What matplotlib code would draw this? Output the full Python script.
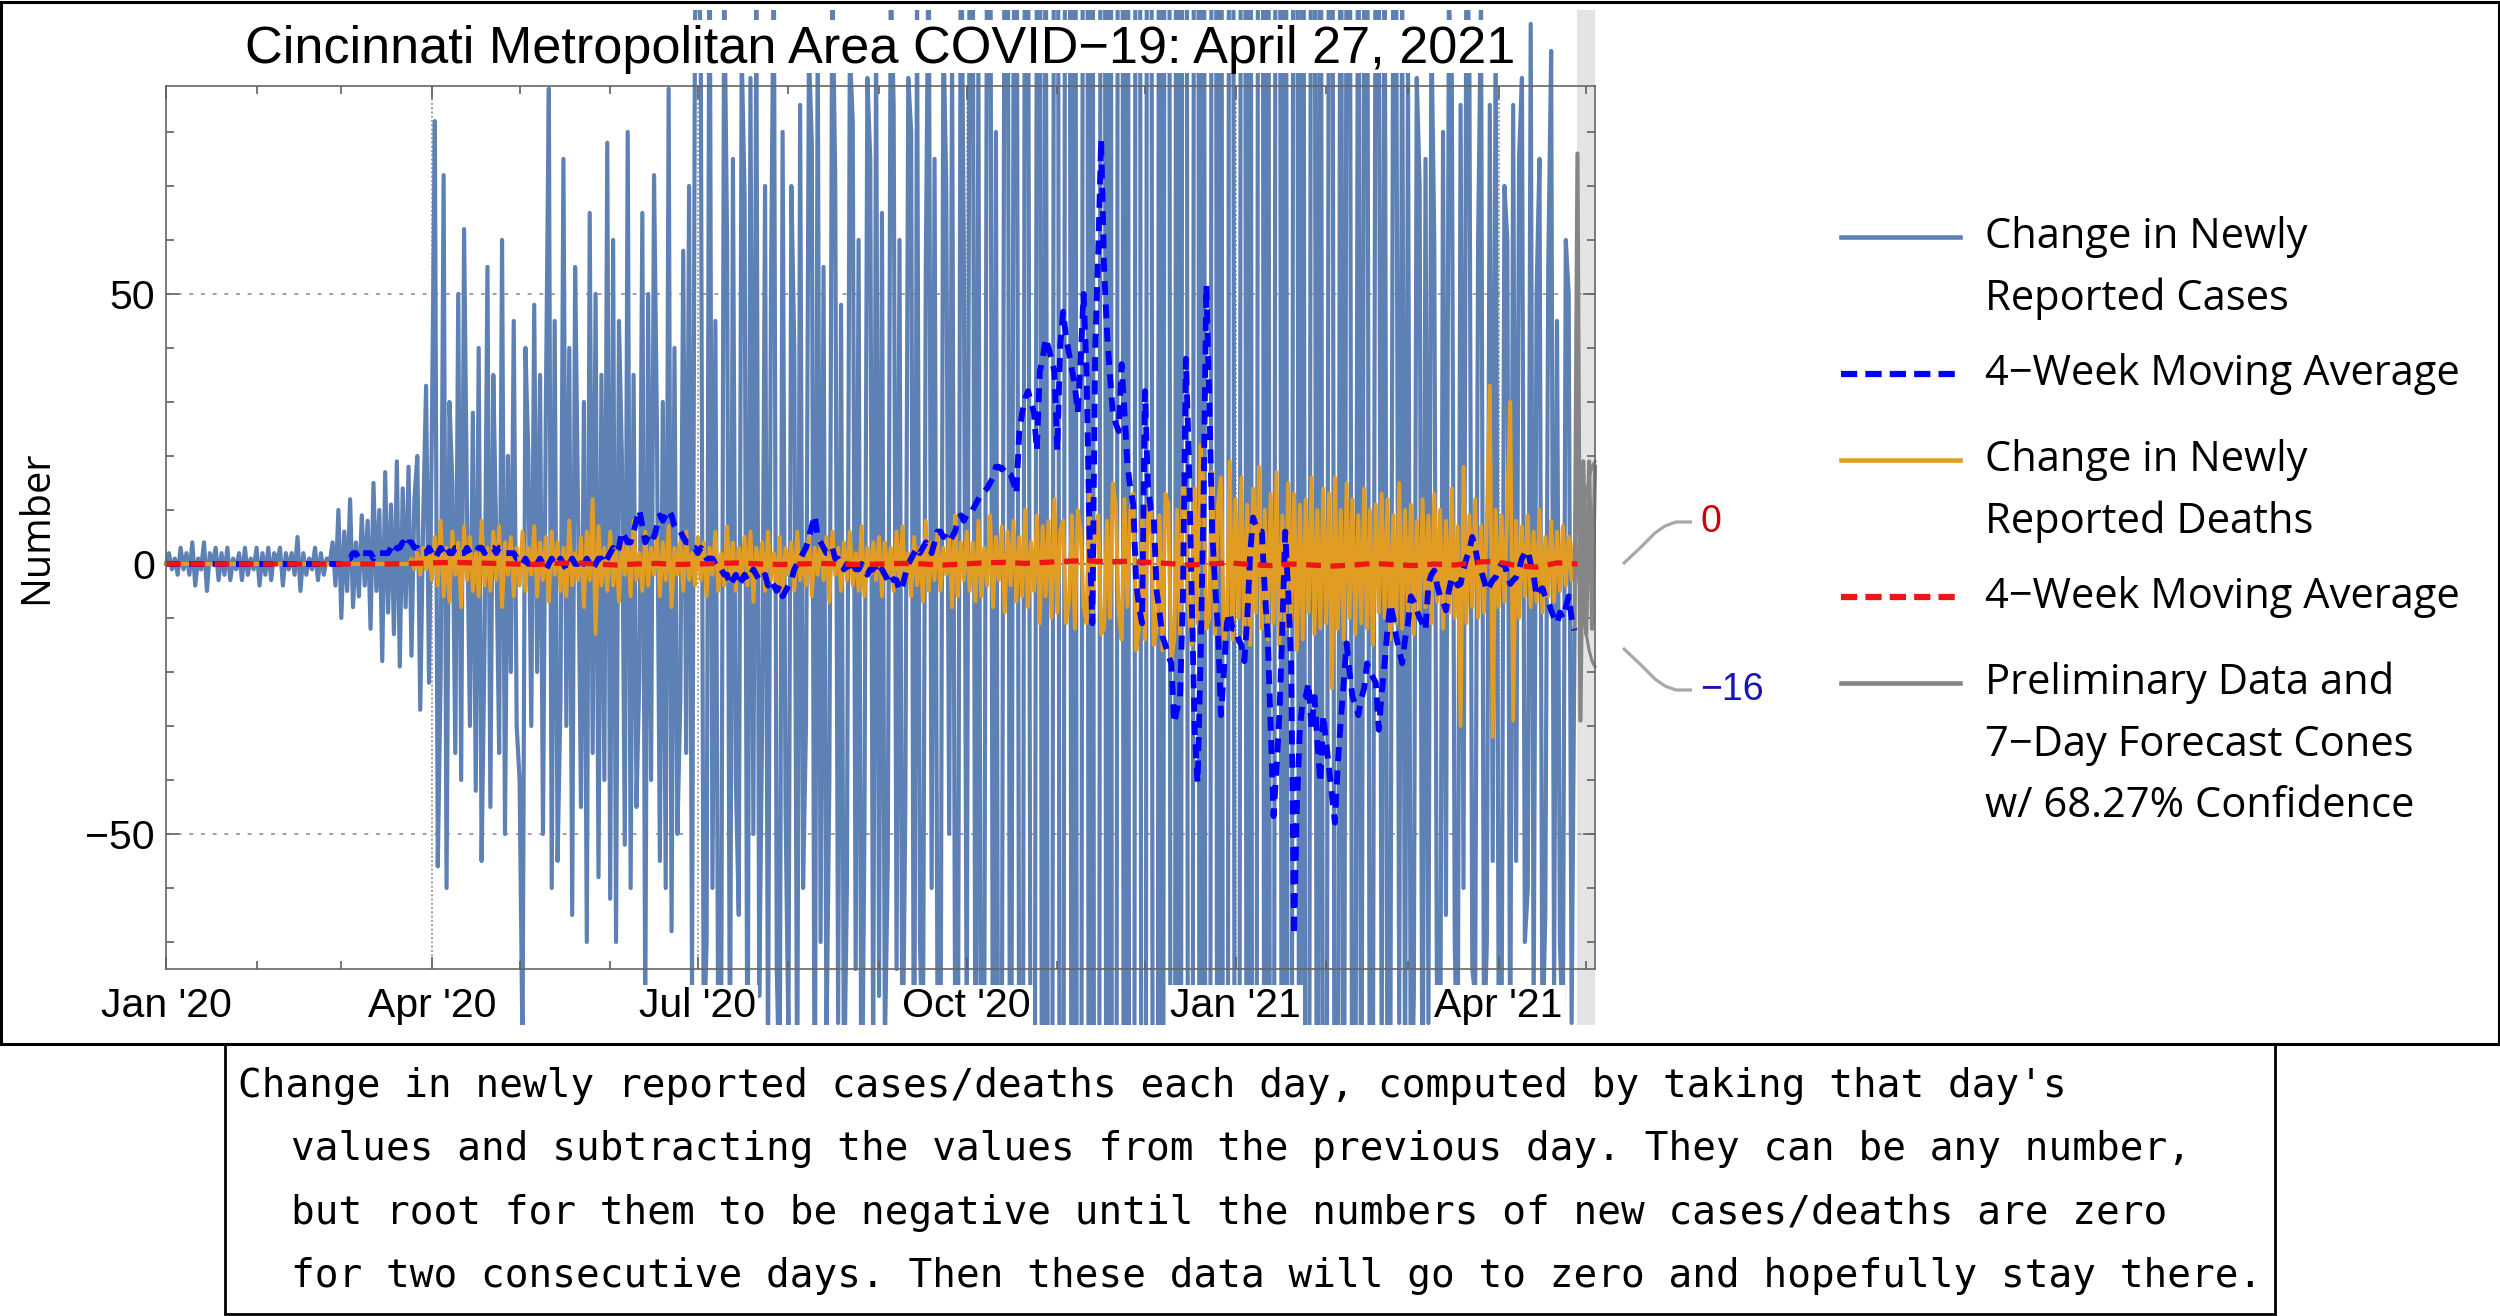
import numpy as np
import pandas as pd
import matplotlib
matplotlib.use("Agg")
from matplotlib import pyplot as plt
from matplotlib.patches import Rectangle
from matplotlib.lines import Line2D
from matplotlib.ticker import MultipleLocator
import matplotlib.dates as mdates

plt.rcParams['font.family'] = ['Liberation Sans', 'DejaVu Sans']
plt.rcParams['axes.unicode_minus'] = True

# ---------------- data (one sub-list per month, Jan 2020 .. Apr 27 2021) ----------------
month_starts = pd.date_range("2020-01-01", "2021-04-01", freq="MS")

case_change = [
    [0, 2, -1, 1, -2, 3, -1, 2, -2, 4, -4, 1, -1, 4, -5, 2, 0, 3, -3, 2, -2, 3, -3, 1, -1, 2, -3, 3, -2, 1, -1],
    [3, -4, 2, -2, 3, -3, 2, 0, 3, -4, 2, -1, 2, -2, 5, -5, 2, -2, 1, -1, 3, -3, 2, -2, 1, 0, 4, -4, 10],
    [-10, 6, -5, 12, -8, 4, -6, 9, -4, 8, -12, 15, -5, 10, -18, 17, -9, 11, -13, 19, -19, 14, -8, 18, -17, 12, 20, -27, 8, 33, -22],
    [26, 82, -56, -20, 72, -60, 30, 15, -35, 50, -40, 62, 10, -30, 28, -42, 40, -55, -15, 55, -45, 35, 5, -35, 60, -50, 20, -20, 45, -30],
    [-40, -90, 40, 20, -30, 48, -20, 35, -50, 30, 88, -60, 45, -55, -25, 75, -30, 40, -65, 55, 10, -45, 30, -70, 65, -35, 50, -58, 35, -40, 78],
    [-62, 60, -70, 45, 20, -52, 80, -60, 35, -45, -20, 65, -85, 50, -40, 72, 25, -55, 30, -60, 88, -68, 40, -50, -25, 58, -35, 70, -80, 100],
    [120, 95, -90, -70, 130, -60, 45, -95, -85, 110, 60, -100, 75, -40, -65, 95, 68, -110, 90, -50, 105, -80, -30, 70, -95, 50, 115, -75, -100, 80, -45],
    [-88, 70, 40, -105, 85, -60, -30, 95, 78, -120, 100, -70, 55, -90, -40, 110, 72, -85, 48, -100, -60, 95, 82, -75, 60, -115, -50, 90, 75, -95, 100],
    [-80, 65, -90, -55, 110, 85, -75, 60, -100, -45, 90, 80, -120, 105, -70, -95, 55, 120, -60, 75, -85, -110, 100, 70, -50, 95, -80, -100, 130, 60],
    [-90, 120, 140, -110, 95, -150, -90, 130, 160, -120, 80, -170, -100, 140, 150, -180, 90, 160, -110, -200, 170, 130, -150, -210, 120, 180, -220, 150, -190, -240, 200],
    [250, -220, -180, 300, 260, -190, 280, -320, -240, 270, 350, -300, 220, -380, -310, 250, 330, -290, 400, -360, -270, 310, 380, -340, 290, -420, -360, 300, 330, -280],
    [-350, 400, 300, -380, -420, 330, -280, 360, 390, -310, -340, 420, -300, 270, 380, -350, -320, 290, 360, -400, 280, -330, -310, 260, 420, -380, 240, -300, -350, 290, 270],
    [-320, -300, 250, 340, -280, 260, -310, -220, 290, 330, -240, 280, -260, -200, 300, 250, -230, 270, -210, -240, 260, 190, -220, 250, -180, -210, 230, 170, -200, 220, -160],
    [-180, 150, 200, -170, -140, 190, -160, 130, 170, -150, -120, 160, -140, 110, 150, -130, -100, 140, 120, -95, 130, -115, -90, 125, 105, -85, 110, -100],
    [95, -110, -80, 90, 70, -120, 75, -85, 100, 60, -95, -110, 80, -65, 105, 90, -70, -100, 85, -60, 115, 95, -75, -80, 60, 105, -90, -70, 85, -55, 100],
    [-80, -95, 70, 60, -100, 85, -55, 75, 90, -70, -60, 100, -85, 50, 75, -90, -65, 55, 95, -80, 45, -70, -88, 60, 50, -85, -12],
]

death_change = [
    [0, 0, 0, 0, 0, 0, 0, 0, 0, 0, 0, 0, 0, 0, 0, 0, 0, 0, 0, 0, 0, 0, 0, 0, 0, 0, 0, 0, 0, 0, 0],
    [0, 0, 0, 0, 0, 0, 0, 0, 0, 0, 0, 0, 0, 0, 0, 0, 0, 0, 0, 0, 0, 0, 0, 0, 0, 0, 0, 0, 0],
    [0, 0, 0, 0, 0, 0, 0, 0, 0, 0, 0, 0, 0, 0, 0, 0, 0, 0, 0, 0, 0, 0, 0, 0, 1, -1, 2, -2, 3, -1, 2],
    [-3, 5, -4, 8, -6, 3, -7, 6, -2, 4, -8, 7, -3, 5, -5, 2, -6, 8, -4, 3, -5, 6, -3, 7, -8, 4, -2, 5, -6, 3],
    [-4, 6, -5, 3, -2, 7, -6, 4, -3, 5, -7, 6, -2, 4, -5, 3, -6, 8, -4, 2, -3, 5, -8, 6, -3, 12, -13, 7, -4, 3, -5],
    [6, -4, 3, -7, 5, -2, 4, -6, 8, -3, 2, -5, 6, -4, 3, -2, 5, -6, 4, -3, 7, -8, 3, -2, 4, -5, 6, -3, 2, -4],
    [5, -3, 4, -6, 3, -2, 6, -5, 2, -4, 7, -3, 4, -5, 3, -2, 5, -4, 6, -7, 3, -2, 4, -5, 6, -3, 2, -4, 5, -6, 3],
    [-2, 4, -5, 6, -3, 2, -4, 5, -6, 3, -2, 4, -3, 5, -7, 6, -2, 3, -5, 4, -3, 6, -4, 2, -5, 7, -6, 3, -2, 4, -3],
    [5, -6, 4, -2, 3, -5, 6, -4, 7, -3, 2, -6, 5, -4, 3, -7, 8, -5, 4, -3, 6, -5, 3, -2, 5, -8, 9, -6, 4, -3],
    [6, -5, 4, -7, 8, -6, 3, -4, 9, -8, 5, -3, 7, -9, 6, -4, 8, -7, 5, -6, 10, -8, 4, -5, 9, -11, 7, -6, 8, -10, 12],
    [-9, 6, 8, -11, -7, 9, -12, 10, 6, -8, -11, 14, -10, 7, 9, -13, -12, 8, -10, 15, 11, -9, -14, 12, -8, 10, 13, -16, -12, 9],
    [-14, 11, 10, -15, -12, 9, -16, 13, 11, -18, -14, 10, -13, 16, 12, -9, -15, 14, -11, 22, 15, -12, -10, 17, -13, 11, 16, -14, -12, 19, -14],
    [12, -10, 16, -13, 11, -15, 14, -9, 18, -12, 10, -14, 13, -11, 17, -15, 9, -12, 15, -10, 13, -16, 11, -14, 12, -9, 16, -13, 10, -12, 14],
    [-11, 13, -23, 16, -12, 10, -14, 15, -10, 12, -13, 9, -11, 14, -12, 10, -15, 11, -9, 13, -10, 12, -14, 9, -11, 15, -12, 10],
    [-9, 11, -13, 8, -10, 12, -8, 9, -11, 13, -7, 10, -12, 8, -9, 14, -10, 7, -30, 18, -11, 9, -8, 12, -10, 7, -9, 8, 33, -32, 10],
    [-8, 9, -7, 11, 30, -29, 8, -10, 7, -6, 9, -8, 6, -7, 10, -9, 5, -6, 8, -7, 6, -5, 7, -4, 5, -3, 4],
]

case_ma = [
    [0, 0, 0, 0, 0, 0, 0, 0, 0, 0, 0, 0, 0, 0, 0, 0, 0, 0, 0, 0, 0, 0, 0, 0, 0, 0, 0, 0, 0, 0, 0],
    [0, 0, 0, 0, 0, 0, 0, 0, 0, 0, 0, 0, 0, 0, 0, 0, 0, 0, 0, 0, 0, 0, 0, 0, 0, 0, 0, 0, 0],
    [0, 1, 1, 1, 2, 2, 1, 2, 2, 2, 2, 1, 2, 2, 2, 2, 2, 3, 2, 3, 3, 4, 3, 4, 4, 3, 3, 2, 2, 2, 3],
    [2, 1, 2, 3, 2, 3, 2, 2, 3, 3, 2, 2, 3, 2, 2, 2, 3, 3, 2, 3, 3, 3, 2, 3, 3, 2, 2, 2, 2, 1],
    [1, 0, 1, 0, 1, 0, 0, 1, 0, -1, 0, 1, 0, 0, 1, 0, -1, 0, 1, 0, 0, 1, 0, 1, 0, -1, 0, 1, 1, 0, 1],
    [2, 3, 2, 3, 6, 5, 4, 4, 6, 8, 10, 7, 4, 5, 6, 5, 7, 9, 8, 9, 10, 9, 7, 6, 6, 5, 4, 4, 3, 3],
    [2, 3, 2, 1, 1, 1, 0, -1, -1, -2, -2, -4, -3, -2, -4, -3, -2, -3, -2, -1, -2, -3, -3, -2, -4, -3, -4, -5, -4, -6, -5],
    [-4, -3, -1, 0, 1, 2, 3, 5, 7, 9, 5, 4, 3, 2, 2, 3, 1, 1, 0, -1, 0, -1, 0, -1, -1, 0, -1, -2, -1, -1, -1],
    [-2, -1, -2, -3, -2, -3, -3, -5, -4, -2, 0, 1, 2, 3, 2, 3, 4, 3, 2, 4, 6, 6, 5, 5, 4, 5, 6, 8, 9, 8],
    [9, 9, 10, 11, 12, 13, 13.5, 14, 15, 16, 18, 18, 17.5, 18, 17, 16.6, 15, 13, 24.6, 28, 30.7, 32, 30, 28, 21, 35.6, 38, 41.8, 40, 38, 35.6],
    [21, 40.5, 46.7, 42, 39, 36, 33, 28, 38, 50, 35.6, 6, -11, 40.5, 57.7, 78.6, 55, 43, 35, 28, 26, 24.6, 37, 28, 18.4, 14, 11, -3.7, -8, -11],
    [32, 14.7, 10, 8.6, -5, -9, -13.5, -15, -17, -18.4, -29.5, -27, -24.6, -6, 38, 20, -6, -30.7, -40.5, -18.4, 10, 51.6, 30.7, 6, -4, -12.3, -28, -20, -11, -9, -12],
    [-12, -14, -15, -18, -10, 2, 8.6, 7, 6, 6, -5, -13.5, -30, -46.7, -38, -28, -12, 6, -5, -18, -68.8, -45, -30.7, -25, -24.6, -22, -30.7, -24.6, -33, -40.5, -28],
    [-33, -38, -43, -47.9, -37, -29, -22, -14.7, -20, -24.6, -26, -28, -25, -23, -18.4, -20, -21, -22, -30.7, -24, -18.4, -12, -7.4, -10, -13.5, -16, -18.4, -14],
    [-11, -6, -7, -8.6, -10, -11, -12.3, -3.7, -2, -1.2, -4, -6, -7, -8.6, -5, -2.5, -3, -4, -3.7, -1, 1, 2.5, 5, 3, 0, -1.2, -3, -5, -4, -3, -2.5],
    [-1, 0, 0, -2, -3.7, -3, -2.5, -1, 1, 2, 2.5, 0, -2, -6, -5, -4.5, -6, -7, -8.6, -10, -11, -9, -10, -8, -6, -10, -12.3],
]

# deaths 4-week moving average, read weekly from Jan 1 2020
death_ma_weekly = [0, 0, 0, 0, 0, 0, 0, 0, 0, 0, 0, 0,
                   0.1, 0.2, 0.3, 0.2, 0.1, 0.0, -0.1, 0.1, 0.2, 0.0, -0.2, 0.0, 0.1, -0.1, 0.0,
                   0.1, 0.2, 0.0, -0.1, 0.0, 0.1, 0.0, -0.1, 0.0, 0.1, 0.0, -0.2, 0.0, 0.2, 0.3,
                   0.1, 0.3, 0.5, 0.6, 0.4, 0.5, 0.3, 0.1, -0.2, 0.0, 0.2, -0.1, -0.3, 0.0, -0.2,
                   -0.4, -0.2, 0.1, -0.1, -0.3, 0.0, -0.2, 0.3, 0.5, -0.3, -0.6, 0.2, 0.0]

# preliminary data and 7-day forecast cone (gray)
prelim_dates = pd.date_range("2021-04-27", "2021-05-04", freq="D")
prelim_cases = [-12, 76, -29, 19, -13, 19, -12, 18]
cone_dates = pd.date_range("2021-04-28", "2021-05-04", freq="D")
cone_upper = [0, 6, 10, 13, 16, 18, 19]
cone_lower = [0, -6, -10, -13, -16, -18, -19]

last_labels = ["0", "\u221216"]
title = "Cincinnati Metropolitan Area COVID\u221219: April 27, 2021"
caption = ["Change in newly reported cases/deaths each day, computed by taking that day's",
           "values and subtracting the values from the previous day. They can be any number,",
           "but root for them to be negative until the numbers of new cases/deaths are zero",
           "for two consecutive days. Then these data will go to zero and hopefully stay there."]


def daily(months):
    dates, vals = [], []
    for start, m in zip(month_starts, months):
        dates += list(start + pd.to_timedelta(np.arange(len(m)), unit="D"))
        vals += m
    return dates, vals


case_dates, case_vals = daily(case_change)
death_dates, death_vals = daily(death_change)
ma_dates, ma_vals = daily(case_ma)
dma_dates = pd.date_range("2020-01-01", periods=len(death_ma_weekly), freq="7D")

# ---------------- figure ----------------
W, H = 2500, 1316
fig = plt.figure(figsize=(25, 13.16), dpi=100)


def fx(px):
    return px / W


def fy(py):
    return 1 - py / H


ax = fig.add_axes([fx(166), fy(969), fx(1595) - fx(166), fy(86) - fy(969)])
clip = Rectangle((0, fy(1025)), fx(1600), fy(10) - fy(1025), transform=fig.transFigure)

C_CASE = '#5E81B5'
C_DEATH = '#E19C24'
C_GRAY = '#858585'

band = ax.axvspan(pd.Timestamp("2021-04-28"), pd.Timestamp("2021-05-04"), ymin=-0.2, ymax=1.2,
                  color='#E4E4E4', lw=0, zorder=0.5)
band.set_clip_path(clip)

for d in pd.to_datetime(["2020-04-01", "2020-07-01", "2020-10-01", "2021-01-01", "2021-04-01"]):
    ax.axvline(d, color='#A0A0A0', lw=1.4, ls=(0, (1, 1.2)), zorder=1)
for yv in (-50, 50):
    ax.axhline(yv, color='#A0A0A0', lw=1.4, ls=(0, (2, 4)), zorder=1)
ax.axhline(0, color='#707070', lw=1.2, zorder=1)

lines = []
lines += ax.plot(case_dates, case_vals, color=C_CASE, lw=3.0, zorder=2)
lines += ax.plot(death_dates, death_vals, color=C_DEATH, lw=2.8, zorder=2.1)
lines += ax.plot(prelim_dates, prelim_cases, color=C_GRAY, lw=3.0, zorder=2.2)
lines += ax.plot(cone_dates, cone_upper, color=C_GRAY, lw=2.2, zorder=2.2)
lines += ax.plot(cone_dates, cone_lower, color=C_GRAY, lw=2.2, zorder=2.2)
lines += ax.plot(ma_dates, ma_vals, color='#0000FF', lw=4.2, dashes=(2.4, 1.6), zorder=2.3)
lines += ax.plot(dma_dates, death_ma_weekly, color='#EE1515', lw=3.8, dashes=(2.8, 1.8), zorder=2.4)
for ln in lines:
    ln.set_clip_path(clip)

ax.set_xlim(pd.Timestamp("2020-01-01"), pd.Timestamp("2021-05-04"))
ax.set_ylim(-75.0, 88.5)

ax.xaxis.set_major_locator(mdates.MonthLocator(bymonth=[1, 4, 7, 10]))
ax.xaxis.set_minor_locator(mdates.MonthLocator())
ax.xaxis.set_major_formatter(mdates.DateFormatter("%b '%y"))
ax.set_yticks([-50, 0, 50])
ax.yaxis.set_minor_locator(MultipleLocator(10))
ax.tick_params(which='both', direction='in', top=True, right=True, color='#606060', width=1.2)
ax.tick_params(which='major', length=9)
ax.tick_params(which='minor', length=6)
ax.tick_params(axis='x', which='major', pad=13, labelsize=29.5)
ax.tick_params(axis='y', which='major', pad=8, labelsize=29.5)
ax.xaxis.set_zorder(3)
for lbl in ax.get_xticklabels():
    lbl.set_bbox(dict(facecolor='white', edgecolor='none', pad=1.5))
for sp in ax.spines.values():
    sp.set_color('#666666')
    sp.set_linewidth(1.2)

# title with white backing
fig.add_artist(Rectangle((fx(240), fy(73)), fx(1516) - fx(240), fy(20) - fy(73),
                         transform=fig.transFigure, facecolor='white', edgecolor='none', zorder=2))
fig.text(fx(880), fy(62.7), title, ha='center', va='baseline', fontsize=37.6, zorder=3)

fig.text(fx(37), fy(527), "Number", rotation=90, ha='center', va='center',
         fontsize=28.5, family='Open Sans')

# callouts for last moving-average values
for ys, color, label in ((564, '#D00000', last_labels[0]), (648, '#1414C0', last_labels[1])):
    yend = 522 if ys < 600 else 690
    sgn = 1 if yend > ys else -1
    px = [1623, 1640, 1655, 1665, 1676, 1692]
    py = [ys, ys + sgn * 16, ys + sgn * 31, ys + sgn * (abs(yend - ys) - 4), yend, yend]
    fig.add_artist(Line2D([fx(v) for v in px], [fy(v) for v in py], transform=fig.transFigure,
                          color='#A8A8A8', lw=2.3, solid_capstyle='butt'))
    fig.text(fx(1700), fy(yend), label, color=color, ha='left', va='center', fontsize=27)

# legend
leg_rows = [
    (C_CASE, None, ["Change in Newly", "Reported Cases"], 237),
    ('#0000FF', (2.6, 1.3), ["4\u2212Week Moving Average"], 374),
    (C_DEATH, None, ["Change in Newly", "Reported Deaths"], 460),
    ('#EE1515', (2.6, 1.3), ["4\u2212Week Moving Average"], 597),
    (C_GRAY, None, ["Preliminary Data and", "7\u2212Day Forecast Cones", "w/ 68.27% Confidence"], 683),
]
for color, dash, texts, y0 in leg_rows:
    kw = dict(transform=fig.transFigure, color=color, lw=3.3 if dash is None else 4.5)
    if dash is not None:
        kw['dashes'] = dash
    fig.add_artist(Line2D([fx(1841), fx(1960)], [fy(y0), fy(y0)], **kw))
    for i, t in enumerate(texts):
        fig.text(fx(1985), fy(y0 + i * 61.5), t, ha='left', va='center', fontsize=30,
                 family='Open Sans')

# frames
fig.add_artist(Rectangle((fx(1.5), fy(1044)), fx(2497), fy(1.5) - fy(1044), transform=fig.transFigure,
                         fill=False, edgecolor='black', lw=2.2, zorder=4))
fig.add_artist(Rectangle((fx(225), fy(1314)), fx(2275) - fx(225), fy(1044) - fy(1314),
                         transform=fig.transFigure, fill=False, edgecolor='black', lw=2.0, zorder=4))
for i, t in enumerate(caption):
    fig.text(fx(238 if i == 0 else 291), fy(1097 + i * 63.3), t, ha='left', va='baseline',
             fontsize=28.4, family='DejaVu Sans Mono')

fig.savefig("out.png", dpi=100)
